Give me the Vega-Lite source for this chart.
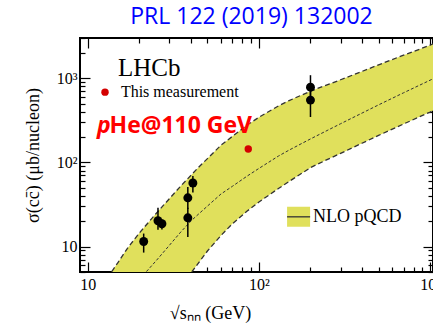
{
  "$schema": "https://vega.github.io/schema/vega-lite/v6.json",
  "autosize": {"type": "none"},
  "padding": {"left": 80, "top": 38, "right": 0, "bottom": 56},
  "width": 353,
  "height": 234,
  "background": "white",
  "title": {"text": "PRL 122 (2019) 132002", "color": "#0000ff", "font": "Open Sans", "fontSize": 23, "fontWeight": "normal", "anchor": "middle", "dx": -5, "offset": 1},
  "config": {
    "view": {"stroke": "black", "strokeWidth": 2},
    "axis": {"domain": false, "grid": false, "tickColor": "black", "tickWidth": 1.2, "labelFont": "Liberation Serif", "labelFontSize": 16, "labelColor": "black", "titleFont": "Liberation Serif", "titleFontSize": 18, "titleFontWeight": "normal", "titleColor": "black"}
  },
  "datasets": {
    "band": [
      {"x": 13.8, "up": 5.06, "lo": 5},
      {"x": 15, "up": 6.48, "lo": 5},
      {"x": 17, "up": 9.5, "lo": 5},
      {"x": 20, "up": 14.5, "lo": 5},
      {"x": 22, "up": 18.2, "lo": 5, "mid": 5.06},
      {"x": 25, "up": 24.6, "lo": 5, "mid": 6.76},
      {"x": 30, "up": 37.2, "lo": 5, "mid": 10.4},
      {"x": 35, "up": 52.7, "lo": 5, "mid": 15.0},
      {"x": 40.5, "up": 72, "lo": 5, "mid": 20.6, "lod": 5},
      {"x": 45, "up": 90.2, "lo": 6.68, "mid": 25.0, "lod": 6.68},
      {"x": 50, "up": 111, "lo": 8.87, "mid": 30.3, "lod": 8.87},
      {"x": 60, "up": 160, "lo": 13.6, "mid": 42.2, "lod": 13.6},
      {"x": 70, "up": 204, "lo": 18.7, "mid": 52.1, "lod": 18.7},
      {"x": 85, "up": 276, "lo": 26.3, "mid": 68.5, "lod": 26.3},
      {"x": 100, "up": 344, "lo": 33.9, "mid": 84.9, "lod": 33.9},
      {"x": 130, "up": 469, "lo": 49.0, "mid": 119, "lod": 49.0},
      {"x": 150, "up": 542, "lo": 59.4, "mid": 140, "lod": 59.4},
      {"x": 200, "up": 701, "lo": 86.7, "mid": 190, "lod": 86.7},
      {"x": 250, "up": 833, "lo": 108, "mid": 239, "lod": 108},
      {"x": 300, "up": 958, "lo": 128, "mid": 288, "lod": 128},
      {"x": 400, "up": 1203, "lo": 169, "mid": 385, "lod": 169},
      {"x": 500, "up": 1441, "lo": 209, "mid": 482, "lod": 209},
      {"x": 700, "up": 1876, "lo": 286, "mid": 671, "lod": 286},
      {"x": 1000, "up": 2462, "lo": 396, "mid": 946, "lod": 396},
      {"x": 1040, "up": 2560, "lo": 412, "mid": 985, "lod": 412}
    ],
    "pts": [
      {"x": 21.2, "y": 11.5, "lo": 8.5, "hi": 14.3},
      {"x": 25.7, "y": 20.3, "lo": 15.9, "hi": 29},
      {"x": 27.1, "y": 18.7, "lo": 16, "hi": 21},
      {"x": 38.4, "y": 38, "lo": 28, "hi": 51},
      {"x": 38.4, "y": 22, "lo": 13, "hi": 29},
      {"x": 41.1, "y": 57, "lo": 44, "hi": 69},
      {"x": 200, "y": 782, "lo": 600, "hi": 1085},
      {"x": 200, "y": 549, "lo": 346, "hi": 700}
    ],
    "meas": [{"x": 86.6, "y": 144}]
  },
  "resolve": {"axis": {"x": "independent", "y": "independent"}},
  "layer": [
    {
      "data": {"name": "band"},
      "mark": {"type": "area", "color": "#e0e05c", "clip": true},
      "encoding": {
        "x": {"field": "x", "type": "quantitative", "scale": {"type": "log", "domain": [9, 1040], "nice": false},
          "axis": {"orient": "bottom", "title": "√sₙₙ (GeV)", "titleX": 130, "titleY": 41, "titleBaseline": "middle", "titleAlign": "center",
            "values": [10, 20, 30, 40, 50, 60, 70, 80, 90, 100, 200, 300, 400, 500, 600, 700, 800, 900, 1000],
            "labelExpr": "datum.value == 10 ? '10' : datum.value == 100 ? '10²' : datum.value == 1000 ? '10³' : ''",
            "tickSize": {"condition": {"test": "datum.value == 10 || datum.value == 100 || datum.value == 1000", "value": -10}, "value": -5},
            "labelPadding": 14, "labelFlush": false, "labelOverlap": false}},
        "y": {"field": "up", "type": "quantitative", "scale": {"type": "log", "domain": [5, 3000], "nice": false},
          "axis": {"orient": "left", "title": "σ(cc̄) (μb/nucleon)", "titleX": -47, "titleY": 117, "titleBaseline": "middle", "titleAlign": "center", "titleAngle": -90,
            "values": [5, 6, 7, 8, 9, 10, 20, 30, 40, 50, 60, 70, 80, 90, 100, 200, 300, 400, 500, 600, 700, 800, 900, 1000, 2000, 3000],
            "labelExpr": "datum.value == 10 ? '10' : datum.value == 100 ? '10²' : datum.value == 1000 ? '10³' : ''",
            "tickSize": {"condition": {"test": "datum.value == 10 || datum.value == 100 || datum.value == 1000", "value": -10}, "value": -5},
            "labelPadding": 13, "labelFlush": false, "labelOverlap": false}},
        "y2": {"field": "lo"}
      }
    },
    {
      "data": {"name": "band"},
      "mark": {"type": "line", "color": "#333333", "strokeWidth": 1.3, "strokeDash": [5, 3], "clip": true},
      "encoding": {
        "x": {"field": "x", "type": "quantitative", "scale": {"type": "log", "domain": [9, 1040], "nice": false}, "axis": null},
        "y": {"field": "up", "type": "quantitative", "scale": {"type": "log", "domain": [5, 3000], "nice": false}, "axis": null}
      }
    },
    {
      "data": {"name": "band"},
      "mark": {"type": "line", "color": "#333333", "strokeWidth": 1.3, "strokeDash": [5, 3], "clip": true},
      "encoding": {
        "x": {"field": "x", "type": "quantitative", "scale": {"type": "log", "domain": [9, 1040], "nice": false}, "axis": null},
        "y": {"field": "lod", "type": "quantitative", "scale": {"type": "log", "domain": [5, 3000], "nice": false}, "axis": null}
      }
    },
    {
      "data": {"name": "band"},
      "mark": {"type": "line", "color": "#333333", "strokeWidth": 1, "strokeDash": [3, 2], "clip": true},
      "encoding": {
        "x": {"field": "x", "type": "quantitative", "scale": {"type": "log", "domain": [9, 1040], "nice": false}, "axis": null},
        "y": {"field": "mid", "type": "quantitative", "scale": {"type": "log", "domain": [5, 3000], "nice": false}, "axis": null}
      }
    },
    {
      "data": {"name": "pts"},
      "mark": {"type": "rule", "color": "black", "strokeWidth": 1.5},
      "encoding": {
        "x": {"field": "x", "type": "quantitative", "scale": {"type": "log", "domain": [9, 1040], "nice": false}, "axis": null},
        "y": {"field": "lo", "type": "quantitative", "scale": {"type": "log", "domain": [5, 3000], "nice": false}, "axis": null},
        "y2": {"field": "hi"}
      }
    },
    {
      "data": {"name": "pts"},
      "mark": {"type": "point", "filled": true, "color": "black", "opacity": 1, "size": 80},
      "encoding": {
        "x": {"field": "x", "type": "quantitative", "scale": {"type": "log", "domain": [9, 1040], "nice": false}, "axis": null},
        "y": {"field": "y", "type": "quantitative", "scale": {"type": "log", "domain": [5, 3000], "nice": false}, "axis": null}
      }
    },
    {
      "data": {"name": "meas"},
      "mark": {"type": "point", "filled": true, "color": "#d40000", "opacity": 1, "size": 55},
      "encoding": {
        "x": {"field": "x", "type": "quantitative", "scale": {"type": "log", "domain": [9, 1040], "nice": false}, "axis": null},
        "y": {"field": "y", "type": "quantitative", "scale": {"type": "log", "domain": [5, 3000], "nice": false}, "axis": null}
      }
    },
    {
      "data": {"values": [{"x": 12.6, "y": 683}]},
      "mark": {"type": "point", "filled": true, "color": "#d40000", "opacity": 1, "size": 55},
      "encoding": {
        "x": {"field": "x", "type": "quantitative", "scale": {"type": "log", "domain": [9, 1040], "nice": false}, "axis": null},
        "y": {"field": "y", "type": "quantitative", "scale": {"type": "log", "domain": [5, 3000], "nice": false}, "axis": null}
      }
    },
    {
      "data": {"values": [{"x": 15.6, "y": 683, "t": "This measurement"}]},
      "mark": {"type": "text", "font": "Liberation Serif", "fontSize": 16, "align": "left", "baseline": "middle", "color": "black"},
      "encoding": {
        "x": {"field": "x", "type": "quantitative", "scale": {"type": "log", "domain": [9, 1040], "nice": false}, "axis": null},
        "y": {"field": "y", "type": "quantitative", "scale": {"type": "log", "domain": [5, 3000], "nice": false}, "axis": null},
        "text": {"field": "t"}
      }
    },
    {
      "data": {"values": [{"x": 15.0, "y": 1313, "t": "LHCb"}]},
      "mark": {"type": "text", "font": "Liberation Serif", "fontSize": 25, "align": "left", "baseline": "middle", "color": "black"},
      "encoding": {
        "x": {"field": "x", "type": "quantitative", "scale": {"type": "log", "domain": [9, 1040], "nice": false}, "axis": null},
        "y": {"field": "y", "type": "quantitative", "scale": {"type": "log", "domain": [5, 3000], "nice": false}, "axis": null},
        "text": {"field": "t"}
      }
    },
    {
      "data": {"values": [{"x": 11.3, "y": 270, "t": "p"}]},
      "mark": {"type": "text", "font": "Open Sans", "fontSize": 23, "fontWeight": "bold", "fontStyle": "italic", "align": "left", "baseline": "middle", "color": "#ff0000"},
      "encoding": {
        "x": {"field": "x", "type": "quantitative", "scale": {"type": "log", "domain": [9, 1040], "nice": false}, "axis": null},
        "y": {"field": "y", "type": "quantitative", "scale": {"type": "log", "domain": [5, 3000], "nice": false}, "axis": null},
        "text": {"field": "t"}
      }
    },
    {
      "data": {"values": [{"x": 13.4, "y": 270, "t": "He@110 GeV"}]},
      "mark": {"type": "text", "font": "Open Sans", "fontSize": 23, "fontWeight": "bold", "align": "left", "baseline": "middle", "color": "#ff0000"},
      "encoding": {
        "x": {"field": "x", "type": "quantitative", "scale": {"type": "log", "domain": [9, 1040], "nice": false}, "axis": null},
        "y": {"field": "y", "type": "quantitative", "scale": {"type": "log", "domain": [5, 3000], "nice": false}, "axis": null},
        "text": {"field": "t"}
      }
    },
    {
      "data": {"values": [{"x": 146, "x2": 199, "y": 17.2, "y2": 29.7}]},
      "mark": {"type": "rect", "color": "#e0e05c"},
      "encoding": {
        "x": {"field": "x", "type": "quantitative", "scale": {"type": "log", "domain": [9, 1040], "nice": false}, "axis": null},
        "x2": {"field": "x2"},
        "y": {"field": "y", "type": "quantitative", "scale": {"type": "log", "domain": [5, 3000], "nice": false}, "axis": null},
        "y2": {"field": "y2"}
      }
    },
    {
      "data": {"values": [{"x": 146, "x2": 199, "y": 22.6}]},
      "mark": {"type": "rule", "color": "#333333", "strokeWidth": 1.3},
      "encoding": {
        "x": {"field": "x", "type": "quantitative", "scale": {"type": "log", "domain": [9, 1040], "nice": false}, "axis": null},
        "x2": {"field": "x2"},
        "y": {"field": "y", "type": "quantitative", "scale": {"type": "log", "domain": [5, 3000], "nice": false}, "axis": null}
      }
    },
    {
      "data": {"values": [{"x": 207, "y": 22.6, "t": "NLO pQCD"}]},
      "mark": {"type": "text", "font": "Liberation Serif", "fontSize": 18, "align": "left", "baseline": "middle", "color": "black"},
      "encoding": {
        "x": {"field": "x", "type": "quantitative", "scale": {"type": "log", "domain": [9, 1040], "nice": false}, "axis": null},
        "y": {"field": "y", "type": "quantitative", "scale": {"type": "log", "domain": [5, 3000], "nice": false}, "axis": null},
        "text": {"field": "t"}
      }
    },
    {
      "data": {"name": "band"},
      "mark": {"type": "point", "opacity": 0},
      "encoding": {
        "x": {"field": "x", "type": "quantitative", "scale": {"type": "log", "domain": [9, 1040], "nice": false},
          "axis": {"orient": "top", "title": null, "labels": false,
            "values": [10, 20, 30, 40, 50, 60, 70, 80, 90, 100, 200, 300, 400, 500, 600, 700, 800, 900, 1000],
            "tickSize": {"condition": {"test": "datum.value == 10 || datum.value == 100 || datum.value == 1000", "value": -10}, "value": -5}}},
        "y": {"field": "up", "type": "quantitative", "scale": {"type": "log", "domain": [5, 3000], "nice": false},
          "axis": {"orient": "right", "title": null, "labels": false,
            "values": [5, 6, 7, 8, 9, 10, 20, 30, 40, 50, 60, 70, 80, 90, 100, 200, 300, 400, 500, 600, 700, 800, 900, 1000, 2000, 3000],
            "tickSize": {"condition": {"test": "datum.value == 10 || datum.value == 100 || datum.value == 1000", "value": -10}, "value": -5}}}
      }
    }
  ]
}
